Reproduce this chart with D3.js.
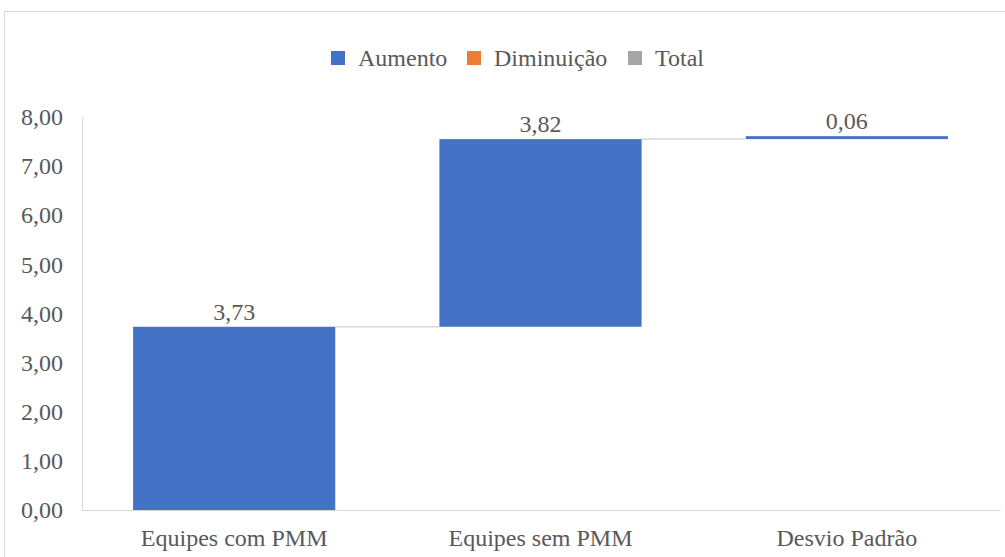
<!DOCTYPE html>
<html>
  <head>
    <meta charset="utf-8">
    <script src="https://cdn.jsdelivr.net/npm/d3@7"></script>
  </head>
  <body style="margin:0; background:#fff">
    <script>
      // data
      var categories = ["Equipes com PMM", "Equipes sem PMM", "Desvio Padrão"];
      var values = [3.73, 3.82, 0.06];
      var legendNames = ["Aumento", "Diminuição", "Total"];
      var legendColors = ["#4472c4", "#ed7d31", "#a5a5a5"];
      var yTicks = [0, 1, 2, 3, 4, 5, 6, 7, 8];

      var W = 1005, H = 557;
      var FF = "Liberation Serif", TC = "#595959";
      var svg = d3.select("body").append("svg")
                  .attr("width", W)
                  .attr("height", H)
                  .attr("font-family", FF);

      function styleText(sel) {
        sel.attr("font-family", FF)
           .style("font-family", function () { return "'" + FF + "'"; })
           .style("font-size", "24px")
           .attr("fill", TC);
      }

      // chart frame
      svg.append("rect")
         .attr("x", 4.5).attr("y", 11.5)
         .attr("width", W + 10).attr("height", H + 10)
         .attr("fill", "none").attr("stroke", "#d9d9d9");

      var fmt = function (v) { return d3.format(".2f")(v).replace(".", ","); };

      // running totals for the waterfall
      var steps = [], run = 0;
      values.forEach(function (v, i) {
        steps.push({ cat: categories[i], v: v, start: run, end: run + v });
        run += v;
      });

      var x = d3.scaleBand().domain(categories).range([81, 1000]).paddingInner(0.34).paddingOuter(0.17);
      var y = d3.scaleLinear().domain([0, 8]).range([510, 117]);

      // y axis
      var yAxis = svg.append("g").attr("transform", "translate(82,0)")
         .call(d3.axisLeft(y).tickValues(yTicks).tickFormat(fmt).tickSize(0).tickPadding(19));
      yAxis.attr("font-family", FF);
      yAxis.select(".domain").attr("stroke", "#d9d9d9");
      yAxis.selectAll("text").call(styleText);

      // connectors
      svg.selectAll("line.conn")
         .data(steps.slice(0, -1))
         .enter().append("line")
         .attr("class", "conn")
         .attr("x1", function (d) { return x(d.cat) + x.bandwidth(); })
         .attr("x2", function (d, i) { return x(steps[i + 1].cat); })
         .attr("y1", function (d) { return y(d.end); })
         .attr("y2", function (d) { return y(d.end); })
         .attr("stroke", "#d9d9d9").attr("stroke-width", 1.5);

      // bars
      svg.selectAll("rect.bar")
         .data(steps)
         .enter().append("rect")
         .attr("class", "bar")
         .attr("x", function (d) { return x(d.cat); })
         .attr("width", x.bandwidth())
         .attr("y", function (d) { return y(d.end); })
         .attr("height", function (d) { return Math.max(2, y(d.start) - y(d.end)); })
         .attr("fill", legendColors[0]);

      // value labels
      svg.selectAll("text.val")
         .data(steps)
         .enter().append("text")
         .attr("class", "val")
         .attr("x", function (d) { return x(d.cat) + x.bandwidth() / 2; })
         .attr("y", function (d) { return y(d.end) - 7; })
         .attr("text-anchor", "middle")
         .call(styleText)
         .text(function (d) { return fmt(d.v); });

      // x axis
      var xAxis = svg.append("g").attr("transform", "translate(0,510)")
         .call(d3.axisBottom(x).tickSize(0).tickPadding(19));
      xAxis.attr("font-family", FF);
      xAxis.select(".domain").attr("stroke", "#d9d9d9");
      xAxis.selectAll("text").call(styleText);

      // legend
      var legX = [331, 467, 628];
      var leg = svg.selectAll("g.leg")
         .data(legendNames)
         .enter().append("g")
         .attr("class", "leg")
         .attr("transform", function (d, i) { return "translate(" + legX[i] + ",51)"; });
      leg.append("rect").attr("width", 14).attr("height", 14)
         .attr("fill", function (d, i) { return legendColors[i]; });
      leg.append("text").attr("x", 27).attr("y", 15)
         .call(styleText)
         .text(function (d) { return d; });
    </script>
  </body>
</html>
